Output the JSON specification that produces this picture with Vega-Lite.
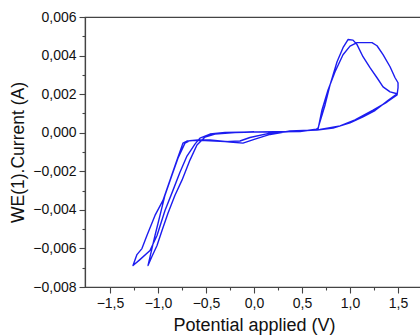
{
  "$schema": "https://vega.github.io/schema/vega-lite/v6.json",
  "width": 338,
  "height": 270,
  "autosize": {"type": "none"},
  "padding": {"left": 85, "top": 17, "right": 0, "bottom": 48},
  "background": "white",
  "config": {
    "view": {"stroke": "#444", "strokeWidth": 1.2},
    "axis": {
      "labelFont": "Liberation Sans",
      "titleFont": "Liberation Sans",
      "labelFontSize": 14,
      "labelColor": "#111",
      "titleColor": "#111",
      "titleFontWeight": "normal",
      "domainColor": "#444",
      "domainWidth": 1.2,
      "tickColor": "#444",
      "tickWidth": 1.1,
      "grid": false
    }
  },
  "data": {
    "values": [
      {"i": 1, "V": 0.042, "I": 0.00004},
      {"i": 2, "V": 0.375, "I": 0.00006},
      {"i": 3, "V": 0.635, "I": 0.00014},
      {"i": 4, "V": 0.667, "I": 0.00024},
      {"i": 5, "V": 0.74, "I": 0.00144},
      {"i": 6, "V": 0.792, "I": 0.00248},
      {"i": 7, "V": 0.865, "I": 0.00368},
      {"i": 8, "V": 0.927, "I": 0.00441},
      {"i": 9, "V": 0.979, "I": 0.00483},
      {"i": 10, "V": 1.031, "I": 0.0048},
      {"i": 11, "V": 1.073, "I": 0.00457},
      {"i": 12, "V": 1.135, "I": 0.00394},
      {"i": 13, "V": 1.208, "I": 0.00337},
      {"i": 14, "V": 1.281, "I": 0.00285},
      {"i": 15, "V": 1.344, "I": 0.00238},
      {"i": 16, "V": 1.417, "I": 0.00212},
      {"i": 17, "V": 1.49, "I": 0.00202},
      {"i": 18, "V": 1.39, "I": 0.00165},
      {"i": 19, "V": 1.26, "I": 0.00115},
      {"i": 20, "V": 1.135, "I": 0.00082},
      {"i": 21, "V": 1.0, "I": 0.00051},
      {"i": 22, "V": 0.823, "I": 0.00024},
      {"i": 23, "V": 0.656, "I": 0.00014},
      {"i": 24, "V": 0.375, "I": 0.00009},
      {"i": 25, "V": 0.167, "I": -0.00009},
      {"i": 26, "V": 0.01, "I": -0.00033},
      {"i": 27, "V": -0.115, "I": -0.00054},
      {"i": 28, "V": -0.25, "I": -0.00048},
      {"i": 29, "V": -0.458, "I": -0.00038},
      {"i": 30, "V": -0.583, "I": -0.00038},
      {"i": 31, "V": -0.698, "I": -0.00043},
      {"i": 32, "V": -0.74, "I": -0.00054},
      {"i": 33, "V": -0.802, "I": -0.00142},
      {"i": 34, "V": -0.875, "I": -0.00246},
      {"i": 35, "V": -0.948, "I": -0.00351},
      {"i": 36, "V": -1.031, "I": -0.00429},
      {"i": 37, "V": -1.115, "I": -0.00533},
      {"i": 38, "V": -1.167, "I": -0.00601},
      {"i": 39, "V": -1.219, "I": -0.00632},
      {"i": 40, "V": -1.26, "I": -0.00689},
      {"i": 41, "V": -1.188, "I": -0.00658},
      {"i": 42, "V": -1.083, "I": -0.00611},
      {"i": 43, "V": -1.01, "I": -0.00533},
      {"i": 44, "V": -0.927, "I": -0.00403},
      {"i": 45, "V": -0.844, "I": -0.00299},
      {"i": 46, "V": -0.771, "I": -0.00205},
      {"i": 47, "V": -0.698, "I": -0.00121},
      {"i": 48, "V": -0.615, "I": -0.00059},
      {"i": 49, "V": -0.563, "I": -0.00028},
      {"i": 50, "V": -0.458, "I": -0.00007},
      {"i": 51, "V": -0.302, "I": 0.00001},
      {"i": 52, "V": 0.0, "I": 0.00004},
      {"i": 53, "V": 0.479, "I": 0.00006},
      {"i": 54, "V": 0.667, "I": 0.00019},
      {"i": 55, "V": 0.708, "I": 0.00118},
      {"i": 56, "V": 0.771, "I": 0.00222},
      {"i": 57, "V": 0.844, "I": 0.00316},
      {"i": 58, "V": 0.927, "I": 0.00404},
      {"i": 59, "V": 1.0, "I": 0.00449},
      {"i": 60, "V": 1.073, "I": 0.00467},
      {"i": 61, "V": 1.229, "I": 0.00467},
      {"i": 62, "V": 1.281, "I": 0.00451},
      {"i": 63, "V": 1.344, "I": 0.00405},
      {"i": 64, "V": 1.417, "I": 0.00342},
      {"i": 65, "V": 1.469, "I": 0.00285},
      {"i": 66, "V": 1.5, "I": 0.00259},
      {"i": 67, "V": 1.5, "I": 0.00233},
      {"i": 68, "V": 1.49, "I": 0.00196},
      {"i": 69, "V": 1.385, "I": 0.00159},
      {"i": 70, "V": 1.24, "I": 0.00117},
      {"i": 71, "V": 1.052, "I": 0.00066},
      {"i": 72, "V": 0.896, "I": 0.00035},
      {"i": 73, "V": 0.688, "I": 0.00017},
      {"i": 74, "V": 0.479, "I": 0.00009},
      {"i": 75, "V": 0.167, "I": -0.00002},
      {"i": 76, "V": -0.042, "I": -0.00025},
      {"i": 77, "V": -0.146, "I": -0.00043},
      {"i": 78, "V": -0.302, "I": -0.00046},
      {"i": 79, "V": -0.51, "I": -0.00041},
      {"i": 80, "V": -0.667, "I": -0.00041},
      {"i": 81, "V": -0.719, "I": -0.00054},
      {"i": 82, "V": -0.792, "I": -0.00132},
      {"i": 83, "V": -0.854, "I": -0.0022},
      {"i": 84, "V": -0.927, "I": -0.00324},
      {"i": 85, "V": -0.979, "I": -0.00429},
      {"i": 86, "V": -1.031, "I": -0.00533},
      {"i": 87, "V": -1.063, "I": -0.00601},
      {"i": 88, "V": -1.104, "I": -0.00689},
      {"i": 89, "V": -1.063, "I": -0.00642},
      {"i": 90, "V": -1.01, "I": -0.00585},
      {"i": 91, "V": -0.958, "I": -0.00507},
      {"i": 92, "V": -0.896, "I": -0.00418},
      {"i": 93, "V": -0.823, "I": -0.00324},
      {"i": 94, "V": -0.75, "I": -0.00246},
      {"i": 95, "V": -0.667, "I": -0.00142},
      {"i": 96, "V": -0.594, "I": -0.00064},
      {"i": 97, "V": -0.51, "I": -0.00022},
      {"i": 98, "V": -0.406, "I": -0.00007},
      {"i": 99, "V": -0.198, "I": 0.00001},
      {"i": 100, "V": 0.0, "I": 0.00004}
    ]
  },
  "layer": [
    {
      "mark": {"type": "line", "color": "#1c1cf0", "strokeWidth": 1.4, "strokeJoin": "round"},
      "encoding": {
        "x": {
          "field": "V", "type": "quantitative",
          "scale": {"domain": [-1.76, 1.76], "nice": false, "zero": false},
          "axis": {
            "orient": "bottom",
            "values": [-1.5, -1, -0.5, 0, 0.5, 1, 1.5],
            "labelExpr": "replace(format(datum.value, '.1f'), '.', ',')",
            "tickSize": 6, "labelPadding": 3,
            "title": "Potential applied (V)", "titleFontSize": 18, "titlePadding": 6
          }
        },
        "y": {
          "field": "I", "type": "quantitative",
          "scale": {"domain": [-0.008, 0.006], "nice": false, "zero": false},
          "axis": {
            "orient": "left",
            "values": [-0.008, -0.006, -0.004, -0.002, 0, 0.002, 0.004, 0.006],
            "labelExpr": "replace(format(datum.value, '.3f'), '.', ',')",
            "tickSize": 6, "labelPadding": 3,
            "title": "WE(1).Current (A)", "titleFontSize": 17.5, "titlePadding": 5
          }
        },
        "order": {"field": "i", "type": "quantitative"}
      }
    },
    {
      "mark": {"type": "line", "opacity": 0},
      "encoding": {
        "x": {
          "field": "V", "type": "quantitative",
          "axis": {
            "orient": "bottom",
            "values": [-1.25, -0.75, -0.25, 0.25, 0.75, 1.25, 1.75],
            "labels": false, "domain": false, "tickSize": 3, "title": null
          }
        },
        "y": {
          "field": "I", "type": "quantitative",
          "axis": {
            "orient": "left",
            "values": [-0.007, -0.005, -0.003, -0.001, 0.001, 0.003, 0.005],
            "labels": false, "domain": false, "tickSize": 3, "title": null
          }
        },
        "order": {"field": "i", "type": "quantitative"}
      }
    }
  ],
  "resolve": {"axis": {"x": "independent", "y": "independent"}}
}
